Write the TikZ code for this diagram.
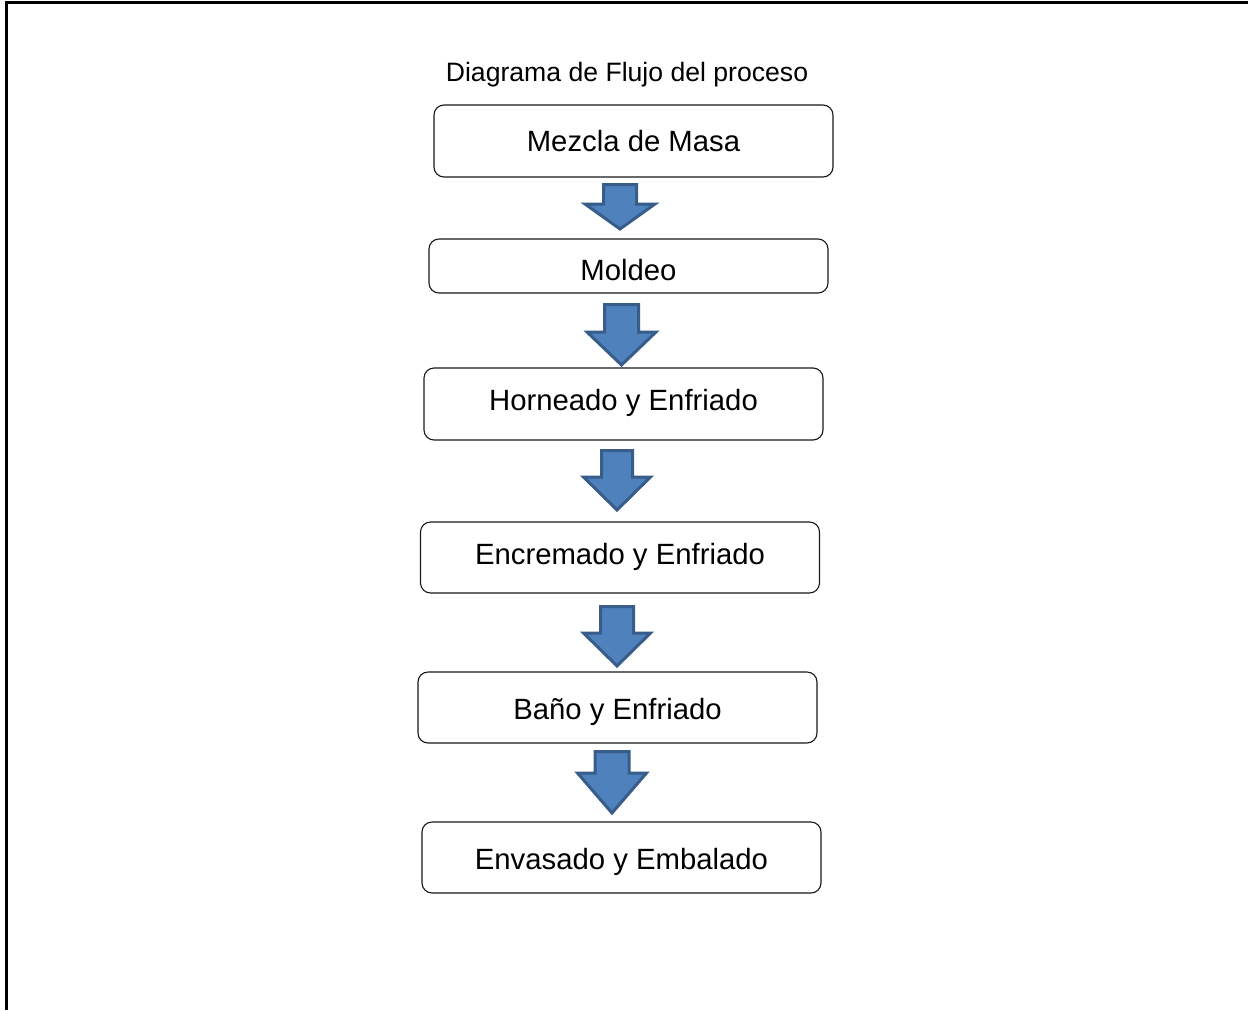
\documentclass[tikz,border=0pt]{standalone}
\usepackage{fontspec}
\setmainfont{Liberation Sans}
\newcommand\shiftt[2]{\raisebox{#1}[\height][\depth]{#2}}
\begin{document}
\begin{tikzpicture}[x=1pt,y=-1pt,
  stepbox/.style={draw=black!90, line width=1.1pt, rounded corners=10pt, fill=white,
    minimum width=399pt, inner sep=0pt, font=\fontsize{29.3}{34}\selectfont},
  blockarrow/.style={draw={rgb,255:red,56;green,93;blue,138}, fill={rgb,255:red,79;green,129;blue,189}, line width=3pt, line join=miter}]
\useasboundingbox (0,0) rectangle (1248,1010);
% border (top and left)
\draw[line width=3pt] (6,1010) coordinate (bl) -- (6,2) coordinate (tl) -- (1248,2) coordinate (tr);
% title
\node[font=\fontsize{26.6}{32}\selectfont] (title) at (627,74.5) {Diagrama de Flujo del proceso};
% boxes
\node[stepbox, minimum height=72pt] (b1) at (633.5,141) {Mezcla de Masa};
\node[stepbox, minimum height=54pt] (b2) at (628.5,266) {\shiftt{-4pt}{Moldeo}};
\node[stepbox, minimum height=72pt] (b3) at (623.5,404) {\shiftt{1pt}{Horneado y Enfriado}};
\node[stepbox, minimum height=71pt] (b4) at (620,557.5) {\shiftt{1pt}{Encremado y Enfriado}};
\node[stepbox, minimum height=71pt] (b5) at (617.5,707.5) {\shiftt{-4pt}{Baño y Enfriado}};
\node[stepbox, minimum height=71pt] (b6) at (621.5,857.5) {\shiftt{-4pt}{Envasado y Embalado}};
% block arrows: name, cx, top, headY, tip, shaft half, head half
\newcommand\barr[7]{%
  \coordinate (#1) at (#2,#3);
  \draw[blockarrow] (#2-#6,#3) -- (#2+#6,#3) -- (#2+#6,#4) -- (#2+#7,#4) -- (#2,#5) -- (#2-#7,#4) -- (#2-#6,#4) -- cycle;}
\barr{a1}{620}{184.5}{204}{229}{16.5}{35}
\barr{a2}{621.5}{304.5}{332}{365}{17}{34.5}
\barr{a3}{617}{450.5}{477}{510}{15.5}{33.5}
\barr{a4}{617}{606.5}{633}{666}{16.5}{33.5}
\barr{a5}{612}{751.5}{773}{813}{17}{34.5}
\end{tikzpicture}
\end{document}
